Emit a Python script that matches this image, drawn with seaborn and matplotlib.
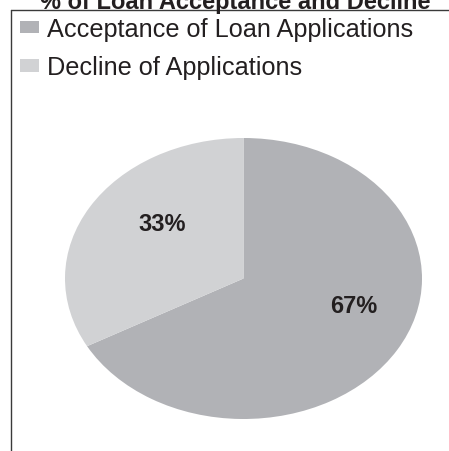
import matplotlib
matplotlib.use("Agg")
import matplotlib.pyplot as plt
from matplotlib.lines import Line2D
import seaborn as sns

# Share of loan applications by outcome
categories = ["Acceptance of Loan Applications", "Decline of Applications"]
shares = [67, 33]
title = "% of Loan Acceptance and Decline"

sns.set_theme(style="white")
plt.rcParams["font.family"] = ["Liberation Sans", "DejaVu Sans"]

palette = ["#b1b2b6", "#d1d2d4"]
ink = "#231f20"

W, H = 449, 452
fig = plt.figure(figsize=(W / 100, H / 100), dpi=100)
fig.patch.set_facecolor("white")

# Pie axes stretched horizontally so the pie renders as an ellipse
ax = fig.add_axes([65 / W, 32 / H, 357 / W, 281 / H])
wedges, _, autotexts = ax.pie(
    shares,
    colors=palette,
    startangle=90,
    counterclock=False,
    autopct=lambda p: f"{p:.0f}%",
    wedgeprops=dict(linewidth=0),
    textprops=dict(color=ink, fontsize=17, fontweight="bold"),
)
ax.set_aspect("auto")
ax.set_xlim(-1, 1)
ax.set_ylim(-1, 1)
ax.axis("off")

label_pos = [(0.615, -0.238), (-0.455, 0.345)]
for t, (x, y) in zip(autotexts, label_pos):
    t.set_position((x, y))
    t.set_ha("center")
    t.set_va("baseline")

# Legend in the upper-left corner
fig.legend(
    wedges, categories,
    loc="upper left",
    bbox_to_anchor=(15 / W, 1 - 13 / H),
    frameon=False,
    fontsize=18.2,
    handlelength=0.75,
    handleheight=0.4,
    handletextpad=0.3,
    labelspacing=0.56,
    borderpad=0.2,
    borderaxespad=0,
    labelcolor=ink,
)

# Title, partly clipped at the top edge
fig.text(235 / W, 1 - 9 / H, title, ha="center", va="baseline",
         fontsize=17, fontweight="bold", color=ink)

# Frame lines along the top and left
fig.add_artist(Line2D([11 / W, 1], [1 - 11 / H, 1 - 11 / H],
                      transform=fig.transFigure, color="#3a3a3a", lw=1))
fig.add_artist(Line2D([11 / W, 11 / W], [0, 1 - 11 / H],
                      transform=fig.transFigure, color="#3a3a3a", lw=1))

fig.savefig("out.png", dpi=100)
